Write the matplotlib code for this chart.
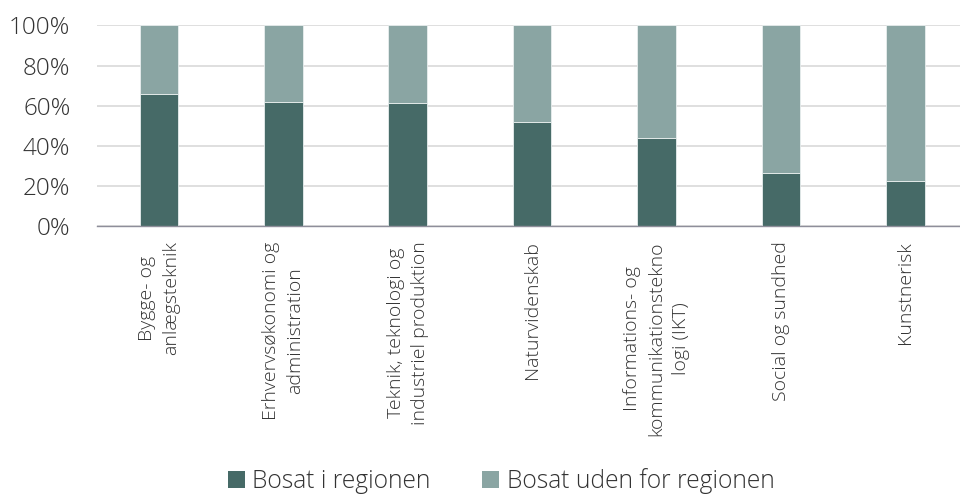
import matplotlib
matplotlib.use("Agg")
import matplotlib.pyplot as plt
from matplotlib.patches import Patch
from matplotlib.ticker import PercentFormatter

categories = [
    "Bygge- og\nanlægsteknik",
    "Erhvervsøkonomi og\nadministration",
    "Teknik, teknologi og\nindustriel produktion",
    "Naturvidenskab",
    "Informations- og\nkommunikationstekno\nlogi (IKT)",
    "Social og sundhed",
    "Kunstnerisk",
]
inside = [65.6, 61.6, 61.1, 52.0, 43.7, 26.6, 22.6]
outside = [100 - v for v in inside]
series_names = ["Bosat i regionen", "Bosat uden for regionen"]
colors = ["#466A67", "#8AA5A3"]

plt.rcParams['font.family'] = ['Open Sans', 'DejaVu Sans']
plt.rcParams['font.weight'] = 'light'

fig = plt.figure(figsize=(9.6, 4.94), dpi=100)
ax = fig.add_axes([96.8 / 960, 1 - 226 / 494, 870.7 / 960, 200.5 / 494])

x = list(range(len(categories)))
w = 0.31
ax.bar(x, inside, width=w, color=colors[0], edgecolor="#E8EEEE", linewidth=0.6, zorder=3)
ax.bar(x, outside, width=w, bottom=inside, color=colors[1], edgecolor="#E8EEEE", linewidth=0.6, zorder=3)

ax.set_xlim(-0.5, len(categories) - 0.5)
ax.set_ylim(0, 100)
ax.set_yticks([0, 20, 40, 60, 80, 100])
ax.yaxis.set_major_formatter(PercentFormatter(100, decimals=0))
ax.grid(axis="y", color="#D9D9D9", linewidth=1.2, zorder=0)
ax.set_axisbelow(True)
for s in ["top", "right", "left"]:
    ax.spines[s].set_visible(False)
ax.spines["bottom"].set_color("#8E8E9A")
ax.spines["bottom"].set_linewidth(1.0)
ax.spines["bottom"].set_zorder(4)

ax.tick_params(axis="y", length=0, pad=19, labelsize=17.5, labelcolor="#333333")
ax.tick_params(axis="x", length=0, pad=11, labelsize=14, labelcolor="#333333")
ax.set_xticks(x)
ax.set_xticklabels(categories, rotation=90, ha="center", va="top", multialignment="center",
                   linespacing=1.45)

handles = [Patch(facecolor=colors[0]), Patch(facecolor=colors[1])]
fig.legend(handles, series_names, loc="center", bbox_to_anchor=(501 / 960, 1 - 481 / 494),
           ncol=2, frameon=False, fontsize=17.7, handlelength=0.7, handleheight=0.7,
           handletextpad=0.3, columnspacing=2.1, labelcolor="#333333")

fig.savefig("out.png", dpi=100)
